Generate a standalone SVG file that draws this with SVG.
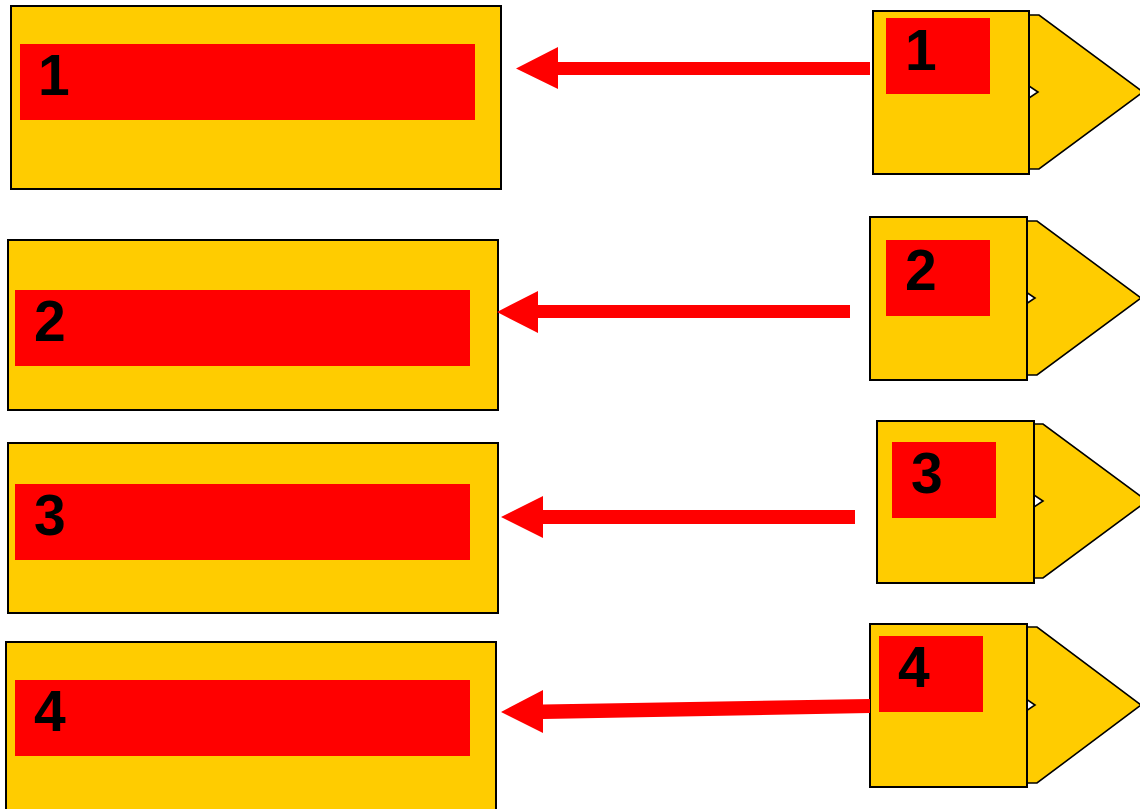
<svg xmlns="http://www.w3.org/2000/svg" width="1140" height="809" viewBox="0 0 1140 809">
  <style>
    .box { fill: #FFCC00; stroke: #000; stroke-width: 2; }
    .chev { fill: #FFCC00; stroke: #000; stroke-width: 1.6; stroke-linejoin: miter; }
    .bar { fill: #FF0000; }
    .num { font-family: "Liberation Sans", Arial, sans-serif; font-weight: bold; font-size: 57px; fill: #000; }
    .arrow { fill: #FF0000; }
  </style>
  <rect width="1140" height="809" fill="#fff"/>

  <!-- left-hand panels -->
  <g id="left1">
    <rect class="box" x="11" y="6" width="490" height="183"/>
    <rect class="bar" x="20" y="44" width="455" height="76"/>
    <text class="num" x="38" y="95">1</text>
  </g>
  <g id="left2">
    <rect class="box" x="8" y="240" width="490" height="170"/>
    <rect class="bar" x="15" y="290" width="455" height="76"/>
    <text class="num" x="34" y="341">2</text>
  </g>
  <g id="left3">
    <rect class="box" x="8" y="443" width="490" height="170"/>
    <rect class="bar" x="15" y="484" width="455" height="76"/>
    <text class="num" x="34" y="535">3</text>
  </g>
  <g id="left4">
    <rect class="box" x="6" y="642" width="490" height="180"/>
    <rect class="bar" x="15" y="680" width="455" height="76"/>
    <text class="num" x="34" y="731">4</text>
  </g>

  <!-- right-hand units: chevron behind a square block -->
  <g id="right1">
    <polygon class="chev" points="923,15 1039,15 1143,92 1039,169 923,169 1038,92"/>
    <rect class="box" x="873" y="11" width="156" height="163"/>
    <rect class="bar" x="886" y="18" width="104" height="76"/>
    <text class="num" x="905" y="70">1</text>
  </g>
  <g id="right2">
    <polygon class="chev" points="920,221 1037,221 1141,298 1037,375 920,375 1035,298"/>
    <rect class="box" x="870" y="217" width="157" height="163"/>
    <rect class="bar" x="886" y="240" width="104" height="76"/>
    <text class="num" x="905" y="290">2</text>
  </g>
  <g id="right3">
    <polygon class="chev" points="928,424 1043,424 1147,501 1043,578 928,578 1043,501"/>
    <rect class="box" x="877" y="421" width="157" height="162"/>
    <rect class="bar" x="892" y="442" width="104" height="76"/>
    <text class="num" x="911" y="493">3</text>
  </g>
  <g id="right4">
    <polygon class="chev" points="920,627 1037,627 1141,705 1037,783 920,783 1035,705"/>
    <rect class="box" x="870" y="624" width="157" height="163"/>
    <rect class="bar" x="879" y="636" width="104" height="76"/>
    <text class="num" x="898" y="687">4</text>
  </g>

  <!-- connectors -->
  <g id="connectors">
    <polygon class="arrow" points="870,62 558,62 558,47 516,68.5 558,89 558,75 870,75"/>
    <polygon class="arrow" points="850,305 538,305 538,291 497,312 538,333 538,318 850,318"/>
    <polygon class="arrow" points="855,510 543,510 543,496 501,517 543,538 543,524 855,524"/>
    <polygon class="arrow" points="870,699 543,704.5 543,690 501,712 543,733 543,719 870,713"/>
  </g>
</svg>
